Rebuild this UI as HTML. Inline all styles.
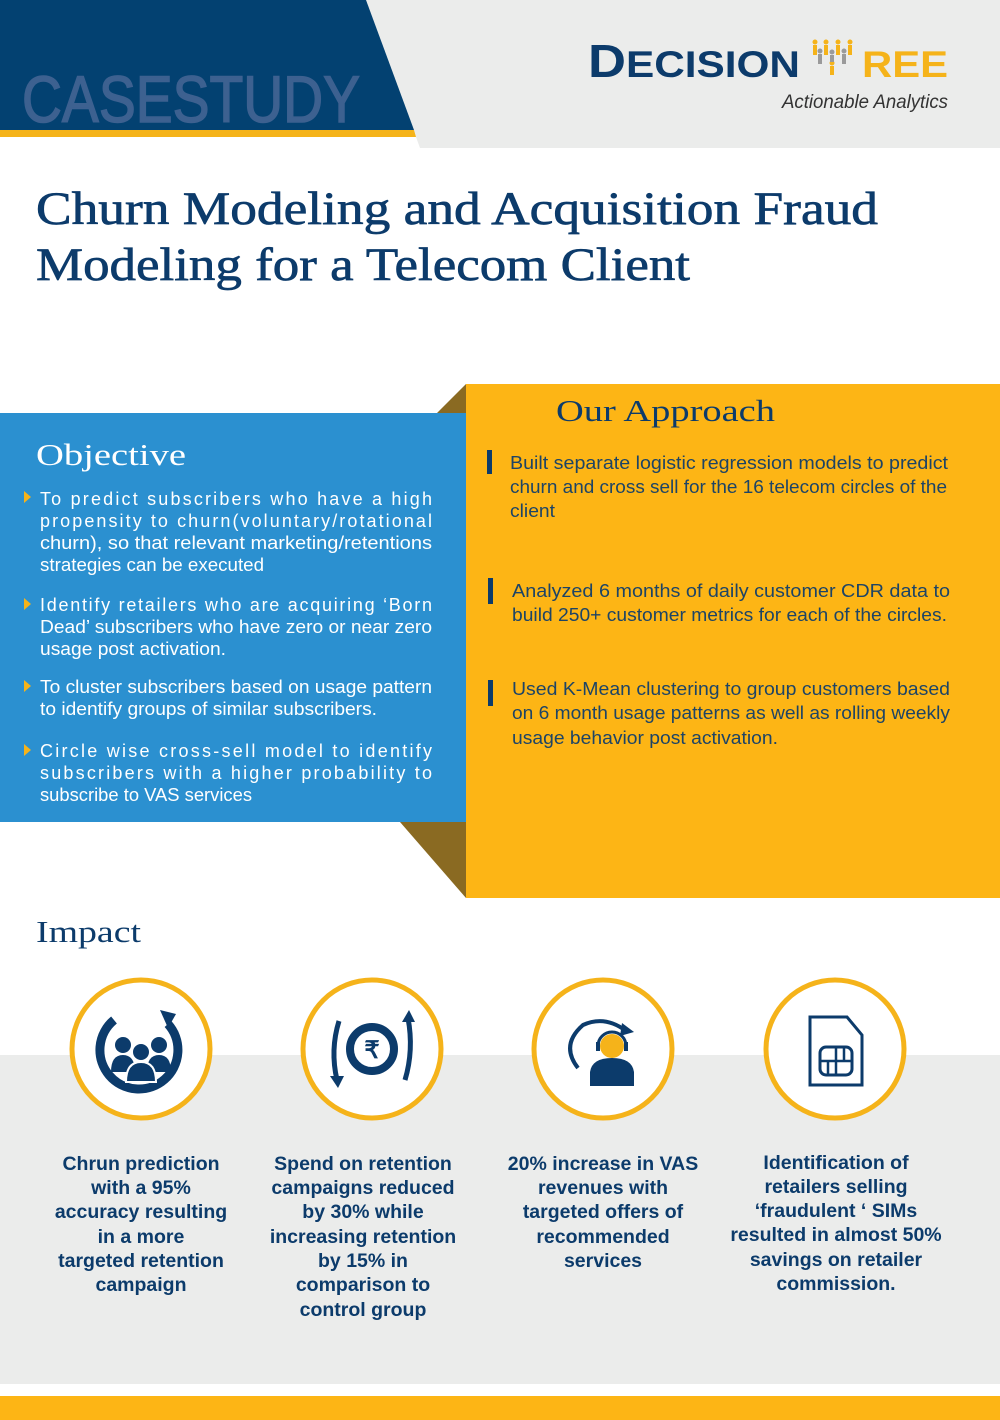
<!DOCTYPE html>
<html><head><meta charset="utf-8"><style>
html,body{margin:0;padding:0;background:#fff;}
svg{display:block;}
.ob{font-family:"Liberation Sans",sans-serif;font-size:18px;fill:#fff;}
.ap{font-family:"Liberation Sans",sans-serif;font-size:18px;fill:#1d4466;}
.im{font-family:"Liberation Sans",sans-serif;font-size:19.5px;font-weight:bold;fill:#0c3b6b;text-anchor:middle;}
.hd{font-family:"Liberation Serif",serif;font-size:31px;}
</style></head><body>
<svg width="1000" height="1420" viewBox="0 0 1000 1420" xmlns="http://www.w3.org/2000/svg">
<polygon points="366,0 1000,0 1000,148 420,148" fill="#ebeceb"/>
<polygon points="0,0 366,0 414,130 0,130" fill="#034171"/>
<polygon points="0,130 414,130 416,137 0,137" fill="#f5b31a"/>
<text x="22" y="122" font-family="Liberation Sans,sans-serif" font-size="66" fill="#3d6190" stroke="#3d6190" stroke-width="1.5" textLength="338" lengthAdjust="spacingAndGlyphs">CASESTUDY</text>
<text x="588" y="77" font-family="Liberation Sans,sans-serif" font-weight="bold" fill="#0c3b6b" textLength="212" lengthAdjust="spacingAndGlyphs"><tspan font-size="46">D</tspan><tspan font-size="37">ECISION</tspan></text>
<g fill="#f5b31a">
<circle cx="815" cy="42" r="2.5"/><rect x="813" y="45" width="4" height="10"/>
<circle cx="826" cy="42" r="2.5"/><rect x="824" y="45" width="4" height="10"/>
<circle cx="838" cy="42" r="2.5"/><rect x="836" y="45" width="4" height="10"/>
<circle cx="850" cy="42" r="2.5"/><rect x="848" y="45" width="4" height="10"/>
<circle cx="832" cy="63" r="2.5"/><rect x="830" y="66" width="4" height="9"/>
</g>
<g fill="#9a9a9a">
<circle cx="820" cy="51" r="2.5"/><rect x="818" y="54" width="4" height="10"/>
<circle cx="844" cy="51" r="2.5"/><rect x="842" y="54" width="4" height="10"/>
<circle cx="832" cy="52" r="2.5"/><rect x="830" y="55" width="4" height="7"/>
</g>
<text x="862" y="77" font-family="Liberation Sans,sans-serif" font-weight="bold" font-size="37" fill="#f5b31a" textLength="86" lengthAdjust="spacingAndGlyphs">REE</text>
<text x="782" y="108" font-family="Liberation Sans,sans-serif" font-style="italic" font-size="19" fill="#333" textLength="166" lengthAdjust="spacingAndGlyphs">Actionable Analytics</text>
<g font-family="Liberation Serif,serif" font-size="47" fill="#0c3b6b" stroke="#0c3b6b" stroke-width="0.7">
<text x="36" y="224" textLength="842" lengthAdjust="spacingAndGlyphs">Churn Modeling and Acquisition Fraud</text>
<text x="36" y="280" textLength="654" lengthAdjust="spacingAndGlyphs">Modeling for a Telecom Client</text>
</g>
<polygon points="437,413 466,384 466,413" fill="#8a6a22"/>
<polygon points="400,822 466,822 466,898" fill="#8a6a22"/>
<rect x="466" y="384" width="534" height="514" fill="#fdb515"/>
<rect x="0" y="413" width="466" height="409" fill="#2b90d0"/>
<text class="hd" x="36" y="465" fill="#fff" textLength="150" lengthAdjust="spacingAndGlyphs">Objective</text>
<g fill="#f5b31a">
<polygon points="24,491 31,497 24,503"/><polygon points="24,598 31,604 24,610"/>
<polygon points="24,680 31,686 24,692"/><polygon points="24,744 31,750 24,756"/>
</g>
<g class="ob">
<text x="40" y="505" textLength="392" lengthAdjust="spacing">To predict subscribers who have a high</text>
<text x="40" y="527" textLength="392" lengthAdjust="spacing">propensity to churn(voluntary/rotational</text>
<text x="40" y="549" textLength="392" lengthAdjust="spacingAndGlyphs">churn), so that relevant marketing/retentions</text>
<text x="40" y="571" textLength="224" lengthAdjust="spacingAndGlyphs">strategies can be executed</text>
<text x="40" y="611" textLength="392" lengthAdjust="spacing">Identify retailers who are acquiring ‘Born</text>
<text x="40" y="633" textLength="392" lengthAdjust="spacingAndGlyphs">Dead’ subscribers who have zero or near zero</text>
<text x="40" y="655" textLength="186" lengthAdjust="spacingAndGlyphs">usage post activation.</text>
<text x="40" y="693" textLength="392" lengthAdjust="spacingAndGlyphs">To cluster subscribers based on usage pattern</text>
<text x="40" y="715" textLength="337" lengthAdjust="spacingAndGlyphs">to identify groups of similar subscribers.</text>
<text x="40" y="757" textLength="392" lengthAdjust="spacing">Circle wise cross-sell model to identify</text>
<text x="40" y="779" textLength="392" lengthAdjust="spacing">subscribers with a higher probability to</text>
<text x="40" y="801" textLength="212" lengthAdjust="spacingAndGlyphs">subscribe to VAS services</text>
</g>
<text class="hd" x="556" y="421" fill="#0c3b6b" textLength="219" lengthAdjust="spacingAndGlyphs">Our Approach</text>
<g fill="#0c3b6b">
<rect x="487" y="450" width="5" height="24"/>
<rect x="488" y="578" width="5" height="26"/>
<rect x="488" y="680" width="5" height="26"/>
</g>
<g class="ap">
<text x="510" y="469" textLength="438" lengthAdjust="spacingAndGlyphs">Built separate logistic regression models to predict</text>
<text x="510" y="493" textLength="437" lengthAdjust="spacingAndGlyphs">churn and cross sell for the 16 telecom circles of the</text>
<text x="510" y="517" textLength="45" lengthAdjust="spacingAndGlyphs">client</text>
<text x="512" y="597" textLength="438" lengthAdjust="spacingAndGlyphs">Analyzed 6 months of daily customer CDR data to</text>
<text x="512" y="621" textLength="435" lengthAdjust="spacingAndGlyphs">build 250+ customer metrics for each of the circles.</text>
<text x="512" y="695" textLength="438" lengthAdjust="spacingAndGlyphs">Used K-Mean clustering to group customers based</text>
<text x="512" y="719" textLength="438" lengthAdjust="spacingAndGlyphs">on 6 month usage patterns as well as rolling weekly</text>
<text x="512" y="744" textLength="266" lengthAdjust="spacingAndGlyphs">usage behavior post activation.</text>
</g>
<text class="hd" x="36" y="942" fill="#0c3b6b" textLength="105" lengthAdjust="spacingAndGlyphs">Impact</text>
<rect x="0" y="1055" width="1000" height="329" fill="#ebeceb"/>
<rect x="0" y="1396" width="1000" height="24" fill="#fdb515"/>
<g fill="#fff" stroke="#f5b31a" stroke-width="5">
<circle cx="141" cy="1049" r="69"/><circle cx="372" cy="1049" r="69"/>
<circle cx="603" cy="1049" r="69"/><circle cx="835" cy="1049" r="69"/>
</g>
<g fill="none" stroke="#0c3b6b">
<path d="M114,1020 A39,39 0 1 0 168,1024" stroke-width="9"/>
</g>
<polygon points="160,1010 176,1014 168,1028" fill="#0c3b6b"/>
<g fill="#0c3b6b">
<circle cx="123" cy="1045" r="8"/><circle cx="159" cy="1045" r="8"/>
<path d="M111,1072 Q111,1055 123,1055 Q135,1055 135,1072Z"/>
<path d="M147,1072 Q147,1055 159,1055 Q171,1055 171,1072Z"/>
<circle cx="141" cy="1052" r="9" stroke="#fff" stroke-width="2"/>
<path d="M126,1082 Q126,1062 141,1062 Q156,1062 156,1082Z" stroke="#fff" stroke-width="2"/>
</g>
<g fill="none" stroke="#0c3b6b" stroke-width="5">
<circle cx="372" cy="1049" r="22" stroke-width="8"/>
<path d="M339,1021 Q330,1050 337,1080"/>
<path d="M405,1080 Q414,1050 408,1018"/>
</g>
<g fill="#0c3b6b">
<polygon points="330,1076 344,1076 338,1088"/>
<polygon points="402,1022 415,1022 409,1010"/>
</g>
<text x="372" y="1058" font-family="Liberation Sans,sans-serif" font-weight="bold" font-size="24" fill="#0c3b6b" text-anchor="middle">₹</text>
<path d="M626,1031 Q605,1015 583,1025 Q560,1045 578,1068" fill="none" stroke="#0c3b6b" stroke-width="4"/>
<polygon points="622,1023 634,1032 620,1036" fill="#0c3b6b"/>
<path d="M590,1086 L590,1072 Q592,1058 612,1058 Q632,1058 634,1072 L634,1086Z" fill="#0c3b6b"/>
<circle cx="612" cy="1046" r="12" fill="#f5b31a"/>
<path d="M598,1046 A14,14 0 0 1 626,1046" fill="none" stroke="#0c3b6b" stroke-width="3"/>
<rect x="596" y="1042" width="4" height="9" fill="#0c3b6b"/><rect x="624" y="1042" width="4" height="9" fill="#0c3b6b"/>
<path d="M810,1017 L847,1017 L862,1035 L862,1085 L810,1085Z" fill="none" stroke="#0c3b6b" stroke-width="3"/>
<rect x="820" y="1047" width="32" height="28" rx="6" fill="none" stroke="#0c3b6b" stroke-width="3"/>
<path d="M820,1061 L852,1061 M836,1047 L836,1075 M828,1061 L828,1075 M844,1047 L844,1061" stroke="#0c3b6b" stroke-width="2.5"/>
<g class="im">
<text x="141" y="1170">Chrun prediction</text>
<text x="141" y="1194">with a 95%</text>
<text x="141" y="1218">accuracy resulting</text>
<text x="141" y="1243">in a more</text>
<text x="141" y="1267">targeted retention</text>
<text x="141" y="1291">campaign</text>
<text x="363" y="1170">Spend on retention</text>
<text x="363" y="1194">campaigns reduced</text>
<text x="363" y="1218">by 30% while</text>
<text x="363" y="1243">increasing retention</text>
<text x="363" y="1267">by 15% in</text>
<text x="363" y="1291">comparison to</text>
<text x="363" y="1316">control group</text>
<text x="603" y="1170">20% increase in VAS</text>
<text x="603" y="1194">revenues with</text>
<text x="603" y="1218">targeted offers of</text>
<text x="603" y="1243">recommended</text>
<text x="603" y="1267">services</text>
<text x="836" y="1169">Identification of</text>
<text x="836" y="1193">retailers selling</text>
<text x="836" y="1217">‘fraudulent ‘ SIMs</text>
<text x="836" y="1241">resulted in almost 50%</text>
<text x="836" y="1266">savings on retailer</text>
<text x="836" y="1290">commission.</text>
</g>
</svg>
</body></html>
